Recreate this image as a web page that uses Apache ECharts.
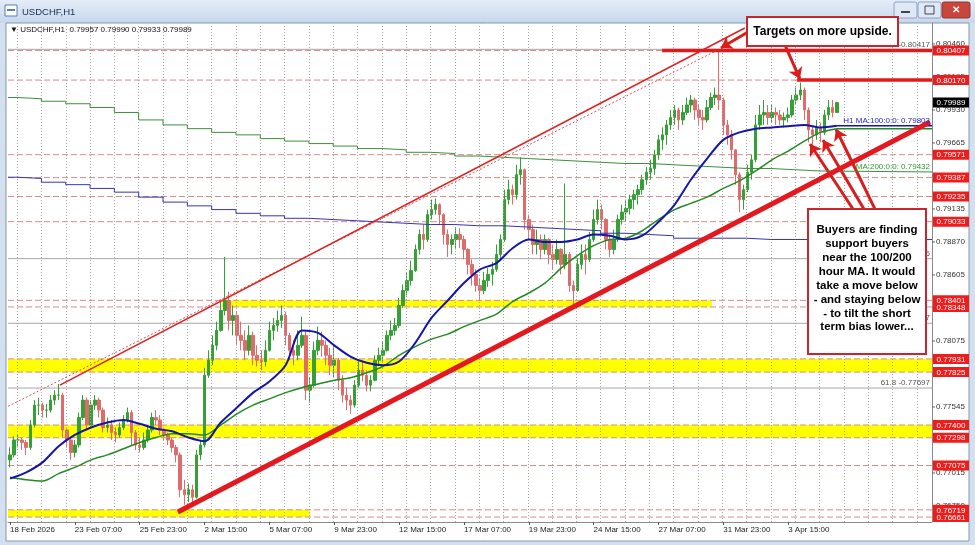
<!DOCTYPE html>
<html>
<head>
<meta charset="utf-8">
<script src="https://cdn.jsdelivr.net/npm/echarts@6.0.0/dist/echarts.min.js"></script>
<style>
html,body{margin:0;padding:0;background:#d3e0ef;}
#chart{width:975px;height:545px;}
</style>
</head>
<body>
<div id="chart"></div>
<script>
// ---------------- DATA ----------------
const symbolName = 'USDCHF,H1';
const headerValues = ['0.79957', '0.79990', '0.79933', '0.79989'];
const timeLabels = ['18 Feb 2026', '23 Feb 07:00', '25 Feb 23:00', '2 Mar 15:00', '5 Mar 07:00', '9 Mar 23:00',
  '12 Mar 15:00', '17 Mar 07:00', '19 Mar 23:00', '24 Mar 15:00', '27 Mar 07:00', '31 Mar 23:00', '3 Apr 15:00'];

// 4-hour candles
const firstOpen = 0.7712;
const closes = [
  0.7716,0.7728,0.7728,0.7726,0.7722,0.7740,0.7756,0.7756,0.7752,0.7752,
  0.7760,0.7764,0.7764,0.7736,0.7728,0.7718,0.7724,0.7746,0.7760,0.7740,
  0.7756,0.7760,0.7752,0.7738,0.7740,0.7734,0.7732,0.7738,0.7744,0.7750,
  0.7734,0.7724,0.7722,0.7728,0.7736,0.7746,0.7744,0.7736,0.7732,0.7728,
  0.7722,0.7716,0.7688,0.7684,0.7688,0.7682,0.7716,0.7724,0.7780,0.7792,
  0.7804,0.7816,0.7832,0.7840,0.7824,0.7828,0.7812,0.7808,0.7800,0.7812,
  0.7796,0.7792,0.7791,0.7800,0.7816,0.7820,0.7824,0.7828,0.7812,0.7800,
  0.7796,0.7804,0.7812,0.7768,0.7772,0.7800,0.7808,0.7804,0.7796,0.7788,
  0.7792,0.7776,0.7764,0.7760,0.7756,0.7772,0.7784,0.7780,0.7772,0.7776,
  0.7792,0.7796,0.7800,0.7812,0.7816,0.7820,0.7836,0.7848,0.7856,0.7864,
  0.7881,0.7893,0.7889,0.7909,0.7913,0.7917,0.7909,0.7893,0.7885,0.7889,
  0.7893,0.7889,0.7881,0.7869,0.7861,0.7852,0.7848,0.7856,0.7861,0.7865,
  0.7877,0.7889,0.7921,0.7929,0.7925,0.7941,0.7945,0.7905,0.7897,0.7885,
  0.7889,0.7881,0.7889,0.7877,0.7873,0.7881,0.7869,0.7877,0.7852,0.7848,
  0.7869,0.7877,0.7873,0.7889,0.7905,0.7913,0.7905,0.7889,0.7881,0.7889,
  0.7905,0.7911,0.7914,0.7921,0.7925,0.7929,0.7937,0.7943,0.7946,0.7957,
  0.7969,0.7973,0.7981,0.7987,0.7993,0.7985,0.7991,0.7997,0.8001,0.7993,
  0.7987,0.7985,0.7995,0.8003,0.8005,0.8001,0.7981,0.7973,0.7961,0.7941,
  0.7921,0.7929,0.7943,0.7953,0.7981,0.7989,0.7991,0.7987,0.7991,0.7989,
  0.7985,0.7987,0.7989,0.8001,0.8005,0.8009,0.7993,0.7977,0.7973,0.7979,
  0.7975,0.7989,0.7995,0.7991,0.79989
];
const highs = [
  0.7722,0.7731,0.7732,0.7730,0.7728,0.7744,0.7760,0.7762,0.7758,0.7757,
  0.7764,0.7768,0.7773,0.7766,0.7738,0.7730,0.7728,0.7750,0.7764,0.7762,
  0.7760,0.7764,0.7762,0.7754,0.7746,0.7744,0.7738,0.7742,0.7748,0.7754,
  0.7752,0.7736,0.7730,0.7734,0.7740,0.7750,0.7752,0.7748,0.7738,0.7734,
  0.7730,0.7724,0.7718,0.7696,0.7693,0.7692,0.7720,0.7728,0.7786,0.7800,
  0.7812,0.7823,0.7839,0.7875,0.7847,0.7836,0.7831,0.7823,0.7816,0.7820,
  0.7815,0.7804,0.7800,0.7808,0.7823,0.7826,0.7832,0.7836,0.7831,0.7814,
  0.7808,0.7816,0.7827,0.7815,0.7778,0.7807,0.7819,0.7815,0.7808,0.7802,
  0.7804,0.7794,0.7780,0.7770,0.7764,0.7776,0.7791,0.7791,0.7784,0.7780,
  0.7796,0.7802,0.7807,0.7816,0.7824,0.7826,0.7842,0.7853,0.7862,0.7872,
  0.7885,0.7897,0.7901,0.7913,0.7921,0.7922,0.7918,0.7910,0.7897,0.7893,
  0.7898,0.7898,0.7892,0.7882,0.7873,0.7865,0.7858,0.7863,0.7866,0.7871,
  0.7885,0.7893,0.7929,0.7937,0.7933,0.7949,0.7955,0.7946,0.7909,0.7901,
  0.7897,0.7893,0.7893,0.7890,0.7885,0.7889,0.7882,0.7934,0.7879,0.7856,
  0.7874,0.7885,0.7885,0.7895,0.7913,0.7921,0.7917,0.7906,0.7893,0.7897,
  0.7909,0.7917,0.7921,0.7925,0.7929,0.7933,0.7941,0.7947,0.7953,0.7961,
  0.7973,0.7979,0.7985,0.7993,0.7997,0.7995,0.7997,0.8003,0.8005,0.8003,
  0.7997,0.7993,0.8001,0.8007,0.8011,0.80417,0.8003,0.7985,0.7977,0.7961,
  0.7943,0.7933,0.7949,0.7957,0.7989,0.7997,0.8001,0.7997,0.7997,0.7995,
  0.7993,0.7991,0.7995,0.8005,0.8011,0.8015,0.8011,0.7995,0.7981,0.7985,
  0.7983,0.7993,0.8001,0.8001,0.7999
];
const lows = [
  0.7706,0.7714,0.7722,0.7720,0.7716,0.7720,0.7738,0.7748,0.7746,0.7746,
  0.7750,0.7756,0.7760,0.7730,0.7722,0.7712,0.7714,0.7722,0.7744,0.7736,
  0.7738,0.7752,0.7746,0.7734,0.7734,0.7728,0.7726,0.7730,0.7736,0.7742,
  0.7724,0.7720,0.7718,0.7720,0.7726,0.7734,0.7740,0.7732,0.7728,0.7724,
  0.7718,0.7710,0.7682,0.7676,0.7678,0.7675,0.7681,0.7712,0.7722,0.7778,
  0.7788,0.7800,0.7815,0.7828,0.7816,0.7812,0.7804,0.7800,0.7792,0.7796,
  0.7788,0.7787,0.7784,0.7787,0.7799,0.7808,0.7815,0.7818,0.7804,0.7792,
  0.7788,0.7792,0.7802,0.7760,0.7758,0.7770,0.7796,0.7795,0.7788,0.7780,
  0.7778,0.7768,0.7758,0.7752,0.7749,0.7754,0.7770,0.7775,0.7767,0.7767,
  0.7775,0.7788,0.7791,0.7799,0.7808,0.7812,0.7818,0.7834,0.7844,0.7852,
  0.7863,0.7877,0.7881,0.7887,0.7905,0.7909,0.7901,0.7885,0.7875,0.7877,
  0.7881,0.7882,0.7873,0.7861,0.7852,0.7847,0.7840,0.7845,0.7851,0.7852,
  0.7863,0.7873,0.7887,0.7917,0.7917,0.7921,0.7933,0.7897,0.7889,0.7877,
  0.7877,0.7873,0.7877,0.7869,0.7865,0.7869,0.7861,0.7865,0.7847,0.7837,
  0.7847,0.7865,0.7861,0.7871,0.7887,0.7901,0.7897,0.7881,0.7875,0.7877,
  0.7887,0.7901,0.7903,0.7909,0.7913,0.7917,0.7925,0.7933,0.7937,0.7941,
  0.7953,0.7961,0.7965,0.7977,0.7981,0.7977,0.7981,0.7989,0.7991,0.7985,
  0.7981,0.7977,0.7983,0.7993,0.7997,0.7993,0.7973,0.7965,0.7953,0.7933,
  0.7911,0.7913,0.7927,0.7937,0.7951,0.7977,0.7981,0.7981,0.7983,0.7981,
  0.7981,0.7979,0.7983,0.7987,0.7997,0.8001,0.7985,0.7967,0.7965,0.7969,
  0.7967,0.7973,0.7985,0.7987,0.7993
];

// hourly moving averages, sampled every 4th candle
const ma100H1 = [0.7697,0.7702,0.7710,0.7723,0.7732,0.7738,0.7742,0.7744,0.7741,0.7737,
  0.7735,0.7730,0.7727,0.7742,0.7754,0.7766,0.7775,0.7788,0.7816,0.7814,
  0.7804,0.7795,0.7790,0.7788,0.7791,0.7806,0.7826,0.7840,0.7854,0.7865,
  0.7870,0.7882,0.7889,0.7887,0.7887,0.7889,0.7893,0.7892,0.7889,0.7892,
  0.7903,0.7917,0.7937,0.7954,0.7969,0.7975,0.7978,0.7979,0.7980,0.7981,
  0.7979,0.79803];
const ma200H1 = [0.7698,0.7696,0.7695,0.7701,0.7706,0.7712,0.7716,0.7721,0.7726,0.7730,
  0.7733,0.7733,0.7732,0.7740,0.7749,0.7756,0.7761,0.7766,0.7770,0.7773,
  0.7776,0.7778,0.7782,0.7787,0.7796,0.7803,0.7809,0.7813,0.7819,0.7824,
  0.7829,0.7839,0.7846,0.7854,0.7866,0.7876,0.7884,0.7889,0.7890,0.7896,
  0.7905,0.7913,0.7918,0.7923,0.7930,0.7936,0.7944,0.7953,0.7960,0.7968,
  0.7975,0.7978];
// daily-step moving averages, one value per trading day
const ma200Daily = [0.8003,0.8002,0.8000,0.7998,0.7995,0.7991,0.7985,0.7981,0.7978,0.7975,
  0.7973,0.7970,0.7968,0.7966,0.7964,0.7962,0.7961,0.7959,0.7958,0.7956,
  0.7955,0.7954,0.7953,0.7952,0.7951,0.7950,0.7950,0.7949,0.7948,0.7947,
  0.7946,0.7946,0.7945,0.7944,0.79432];
const ma100Daily = [0.7939,0.7938,0.7935,0.7933,0.7930,0.7927,0.7923,0.7919,0.7916,0.7913,
  0.7910,0.7908,0.7906,0.7905,0.7904,0.7903,0.7902,0.7901,0.7901,0.7900,
  0.7900,0.7899,0.7898,0.7897,0.7896,0.7894,0.7893,0.7892,0.7890,0.7890,
  0.7890,0.7889,0.7889,0.7889,0.7889];

const levelLines = [0.80407,0.80170,0.79571,0.79387,0.79235,0.79033,0.78401,0.78348,
  0.77931,0.77825,0.77400,0.77298,0.77075,0.76719,0.76661];
const yellowBands = [[0.78401,0.78348],[0.77931,0.77825],[0.77400,0.77298],[0.76719,0.76661]];
const fibLevels = [0.80417,0.78736,0.78217,0.77697];
const fibNames = ['0.0','38.2','50.0','61.8'];
const priceTicks = [0.80460,0.80195,0.79930,0.79665,0.79400,0.79135,0.78870,0.78605,
  0.78340,0.78075,0.77810,0.77545,0.77280,0.77015,0.76750];
const lastPrice = 0.79989;
const ma100Label = 0.79803;
const ma200DailyLabel = 0.79432;

// drawn objects: [candle slot, price]
const channelTop = [[12.3,0.7772],[181.3,0.80588]];
const fibDiagonal = [[-0.5,0.7755],[175,0.80417]];
const supportLine = [[41.4,0.76702],[227,0.79833]];
const targetLines = [[[160.9,0.80407],[227.5,0.80407]],[[194.2,0.80170],[227.5,0.80170]]];
const arrows = [
  [[182.1,0.80556],[175.4,0.80428]],
  [[191.2,0.80452],[194.9,0.80179]],
  [[208.0,0.79135],[197.4,0.79657]],
  [[210.7,0.79135],[200.6,0.79689]],
  [[213.4,0.79135],[203.8,0.79777]]
];
const bandSpans = [[52.3,173.2],[-0.5,227.5],[-0.5,227.5],[-0.5,74]];
const targetsText = 'Targets on more upside.';
const buyersText = ['Buyers are finding','support buyers','near the 100/200','hour MA. It would',
  'take a move below','- and staying below','- to tilt the short','term bias lower...'];

// ---------------- CHART ----------------
const SLOTS = 228, XMIN = -0.5, XMAX = 227.5;
const YMIN = 0.766213, YMAX = 0.806203;
const FONT = '"Liberation Sans", Arial, sans-serif';
const cats = Array.from({length: SLOTS}, (_, i) => String(i));
const candles = closes.map((c, i) => {
  const o = i ? closes[i - 1] : firstOpen;
  return [o, c, Math.min(lows[i], o, c), Math.max(highs[i], o, c)];
});
const maPts = a => a.map((v, j) => [j * 4, v]);
const stepPts = a => {
  const p = a.map((v, d) => [d === 0 ? XMIN : 1.75 + 6 * (d - 1), v]);
  p.push([XMAX, a[a.length - 1]]);
  return p;
};
const gridXs = [];
for (let d = 0; 1.75 + 6 * d < XMAX; d++) gridXs.push(1.75 + 6 * d);
const showLab = (i) => i % 16 === 0 && i / 16 < timeLabels.length;

const ov = {type: 'line', xAxisIndex: 1, yAxisIndex: 0, symbol: 'none', silent: true, animation: false};
const hLine = (v, x0, x1, style, z) => ({...ov, data: [[x0, v], [x1, v]], z: z, lineStyle: style});

const series = [
  {...ov, data: [[XMIN, null]], z: 1, markLine: {silent: true, symbol: 'none', animation: false, label: {show: false},
    lineStyle: {color: '#a4a4a4', type: [1, 2], width: 1}, data: gridXs.map(x => ({xAxis: x}))}},
  {...ov, data: [[XMIN, null]], z: 1, markArea: {silent: true, animation: false, itemStyle: {color: '#ffff00'},
    data: yellowBands.map((b, i) => [{xAxis: bandSpans[i][0], yAxis: b[0]}, {xAxis: bandSpans[i][1], yAxis: b[1]}])}}
];
levelLines.forEach(v => series.push(hLine(v, XMIN, XMAX, {color: '#d98a8a', type: [6, 3], width: 1}, 2)));
fibLevels.forEach(v => series.push(hLine(v, XMIN, XMAX, {color: '#a8a8a8', width: 1}, 2)));
series.push(
  {type: 'candlestick', xAxisIndex: 0, yAxisIndex: 0, data: candles, barWidth: 3, z: 4, silent: true, animation: false,
    itemStyle: {color: '#35a035', color0: '#e06b6b', borderColor: '#35a035', borderColor0: '#e06b6b', borderWidth: 1}},
  {...ov, data: stepPts(ma200Daily), step: 'end', z: 5, lineStyle: {color: '#3d8f3d', width: 1}},
  {...ov, data: stepPts(ma100Daily), step: 'end', z: 5, lineStyle: {color: '#3434b4', width: 1}},
  {...ov, data: maPts(ma200H1), smooth: 0.3, z: 6, lineStyle: {color: '#238a23', width: 1.5}},
  hLine(ma200H1[ma200H1.length - 1], 204, XMAX, {color: '#238a23', width: 1.5}, 6),
  {...ov, data: maPts(ma100H1), smooth: 0.3, z: 6, lineStyle: {color: '#1515a8', width: 2}},
  hLine(ma100Label, 204, XMAX, {color: '#1515a8', width: 1.5}, 6),
  {...ov, data: fibDiagonal, z: 7, lineStyle: {color: '#e05050', width: 1, type: [2, 2]}},
  {...ov, data: channelTop, z: 7, lineStyle: {color: '#e01e1e', width: 1.5}},
  {...ov, data: supportLine, z: 7, lineStyle: {color: '#e3191f', width: 5}},
  {...ov, data: targetLines[0], z: 7, lineStyle: {color: '#e01a1a', width: 3.5}},
  {...ov, data: targetLines[1], z: 7, lineStyle: {color: '#e01a1a', width: 3.5}},
  {...ov, data: [[XMIN, null]], z: 8, markLine: {silent: true, animation: false, symbol: ['none', 'arrow'], symbolSize: 11,
    label: {show: false}, lineStyle: {color: '#d91c1c', width: 3, type: 'solid'},
    data: arrows.map(a => [{coord: a[0]}, {coord: a[1]}])}}
);

const chrome = [
  {type: 'rect', z: -10, silent: true, shape: {x: 0, y: 0, width: 975, height: 545}, style: {fill: '#d3e0ef'}},
  {type: 'rect', z: -9, silent: true, shape: {x: 0, y: 0, width: 975, height: 23},
    style: {fill: new echarts.graphic.LinearGradient(0, 0, 0, 1, [{offset: 0, color: '#e4edf8'}, {offset: 1, color: '#c6d7ec'}])}},
  {type: 'rect', z: -9, silent: true, shape: {x: 5, y: 5, width: 12, height: 11}, style: {fill: '#fff', stroke: '#5b7fb0', lineWidth: 1}},
  {type: 'rect', z: -9, silent: true, shape: {x: 7, y: 9, width: 8, height: 2}, style: {fill: '#5b7fb0'}},
  {type: 'text', z: -9, silent: true, style: {text: symbolName, x: 22, y: 12, fill: '#1b2f4d', font: '9.5px ' + FONT, textVerticalAlign: 'middle'}},
  {type: 'rect', z: -9, silent: true, shape: {x: 894, y: 2, width: 23, height: 16, r: 2}, style: {fill: '#dfe8f4', stroke: '#8ea3c0', lineWidth: 1}},
  {type: 'rect', z: -9, silent: true, shape: {x: 901, y: 11, width: 9, height: 2}, style: {fill: '#445'}},
  {type: 'rect', z: -9, silent: true, shape: {x: 918, y: 2, width: 23, height: 16, r: 2}, style: {fill: '#dfe8f4', stroke: '#8ea3c0', lineWidth: 1}},
  {type: 'rect', z: -9, silent: true, shape: {x: 925, y: 6, width: 9, height: 8}, style: {fill: 'none', stroke: '#445', lineWidth: 1}},
  {type: 'rect', z: -9, silent: true, shape: {x: 942, y: 2, width: 28, height: 16, r: 2}, style: {fill: '#c9463d', stroke: '#8e3a35', lineWidth: 1}},
  {type: 'text', z: -9, silent: true, style: {text: '✕', x: 956, y: 10, fill: '#fff', font: 'bold 10px ' + FONT, textAlign: 'center', textVerticalAlign: 'middle'}},
  {type: 'rect', z: -8, silent: true, shape: {x: 6, y: 23, width: 963, height: 518}, style: {fill: '#fff', stroke: '#8796ab', lineWidth: 1}},
  {type: 'line', z: 20, silent: true, shape: {x1: 932.5, y1: 23, x2: 932.5, y2: 522}, style: {stroke: '#8a8a8a', lineWidth: 1}},
  {type: 'text', z: 20, silent: true, style: {text: '▼ ' + symbolName + '  ' + headerValues.join(' '), x: 10, y: 30,
    fill: '#111', font: '8px ' + FONT, textVerticalAlign: 'middle'}},
  {type: 'rect', z: 100, silent: true, shape: {x: 747, y: 17, width: 151, height: 29}, style: {fill: '#fff', stroke: '#c8262c', lineWidth: 2}},
  {type: 'text', z: 101, silent: true, style: {text: targetsText, x: 822.5, y: 31.5, fill: '#000',
    font: 'bold 12px ' + FONT, textAlign: 'center', textVerticalAlign: 'middle'}},
  {type: 'rect', z: 100, silent: true, shape: {x: 808, y: 209, width: 118, height: 145}, style: {fill: '#fff', stroke: '#c8262c', lineWidth: 2}},
  {type: 'text', z: 101, silent: true, style: {text: buyersText.join('\n'), x: 867, y: 223, fill: '#000',
    font: 'bold 11.5px ' + FONT, textAlign: 'center', textVerticalAlign: 'top', lineHeight: 13.9}}
];

const chart = echarts.init(document.getElementById('chart'), null, {renderer: 'canvas'});
chart.setOption({
  animation: false,
  backgroundColor: 'transparent',
  grid: {left: 8, right: 43, top: 24, bottom: 23, show: false},
  xAxis: [
    {type: 'category', data: cats, boundaryGap: true, gridIndex: 0,
      axisLine: {show: true, lineStyle: {color: '#8a8a8a'}},
      axisTick: {show: true, interval: showLab, alignWithLabel: true, length: 3, lineStyle: {color: '#555'}},
      axisLabel: {interval: showLab, formatter: (v, i) => timeLabels[i / 16] || '', align: 'left',
        fontSize: 8, color: '#222', margin: 4, fontFamily: FONT},
      splitLine: {show: false}},
    {type: 'value', min: XMIN, max: XMAX, gridIndex: 0, show: false}
  ],
  yAxis: {type: 'value', min: YMIN, max: YMAX, show: false, position: 'right'},
  series: series,
  graphic: chrome
});

// price-axis and inline labels, placed through the y scale
const py = v => chart.convertToPixel({yAxisIndex: 0}, v);
const labels = [];
const AX = 933;
priceTicks.forEach(v => {
  const y = py(v);
  labels.push({type: 'line', z: 30, silent: true, shape: {x1: 932, y1: y, x2: 935, y2: y}, style: {stroke: '#666', lineWidth: 1}});
  labels.push({type: 'text', z: 30, silent: true, style: {text: v.toFixed(5), x: 936, y: y, fill: '#333',
    font: '8px ' + FONT, textVerticalAlign: 'middle'}});
});
const box = (v, bg) => {
  const y = py(v);
  labels.push({type: 'rect', z: 40, silent: true, shape: {x: AX, y: y - 5, width: 36, height: 10}, style: {fill: bg}});
  labels.push({type: 'text', z: 41, silent: true, style: {text: v.toFixed(5), x: AX + 18, y: y + 0.5, fill: '#fff',
    font: '8px ' + FONT, textAlign: 'center', textVerticalAlign: 'middle'}});
};
levelLines.forEach(v => box(v, '#f01c1c'));
box(lastPrice, '#000');
fibLevels.forEach((v, i) => labels.push({type: 'text', z: 30, silent: true, style: {text: fibNames[i] + ' -' + v.toFixed(5),
  x: 930, y: py(v) - 1, fill: '#555', font: '8px ' + FONT, textAlign: 'right', textVerticalAlign: 'bottom'}}));
labels.push({type: 'text', z: 30, silent: true, style: {text: 'H1 MA:100:0:0: ' + ma100Label.toFixed(5),
  x: 930, y: py(ma100Label) - 1, fill: '#2323c8', font: '8px ' + FONT, textAlign: 'right', textVerticalAlign: 'bottom'}});
labels.push({type: 'text', z: 30, silent: true, style: {text: 'MA:200:0:0: ' + ma200DailyLabel.toFixed(5),
  x: 930, y: py(ma200DailyLabel) - 1, fill: '#2f9a2f', font: '8px ' + FONT, textAlign: 'right', textVerticalAlign: 'bottom'}});

chart.setOption({graphic: chrome.concat(labels)});
</script>
</body>
</html>
